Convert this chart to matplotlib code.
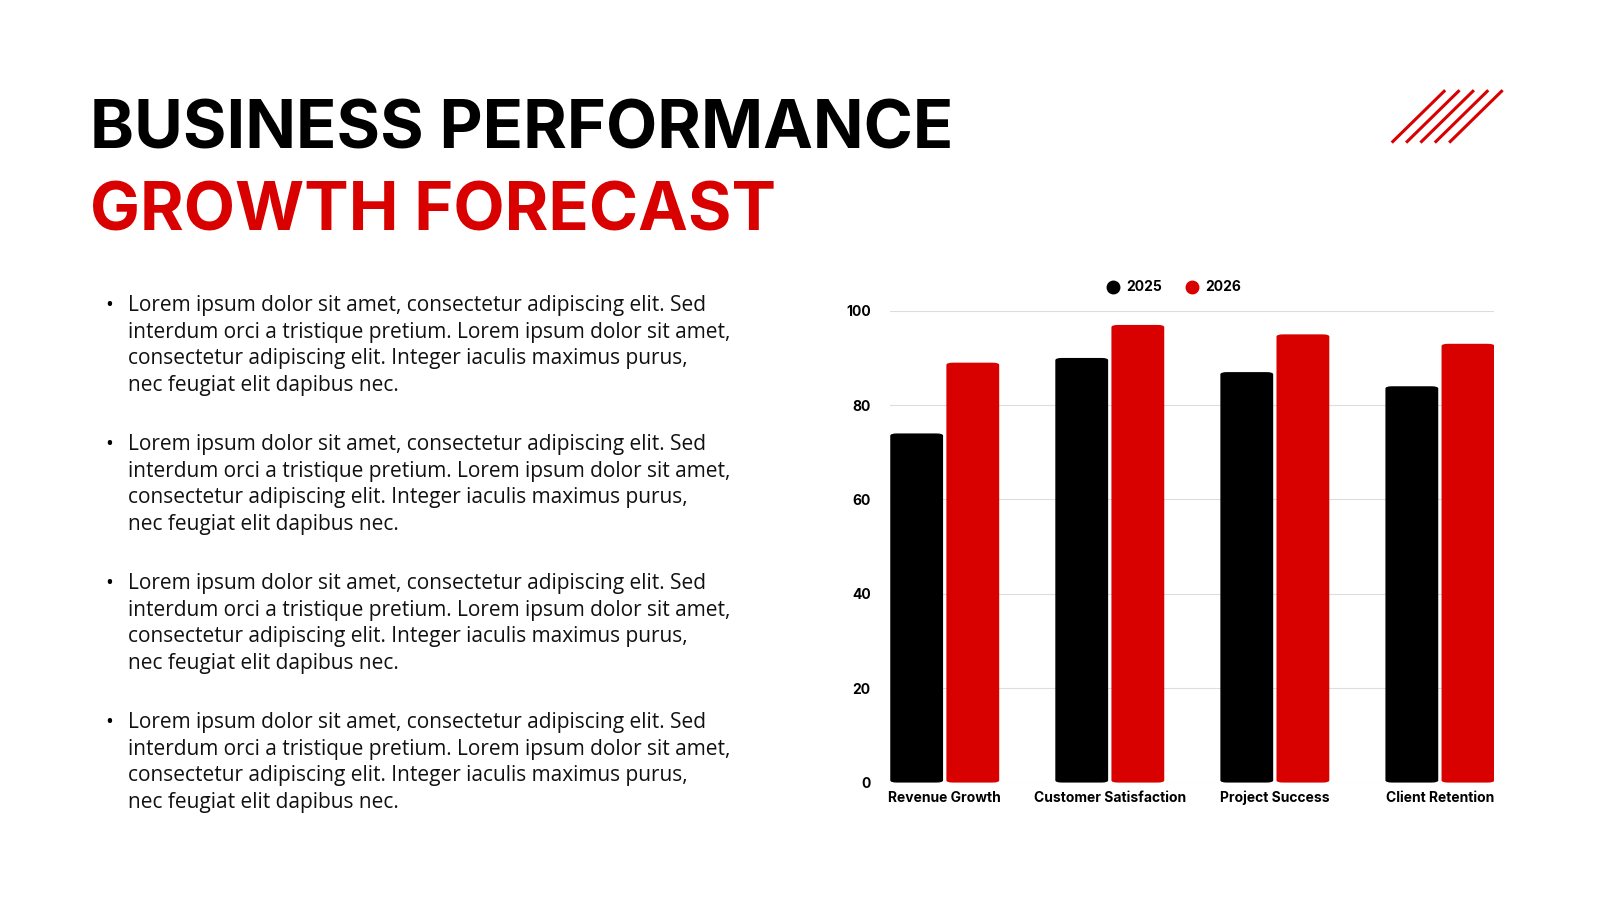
import numpy as np
import matplotlib.pyplot as plt
from matplotlib.patches import FancyBboxPatch
from matplotlib.lines import Line2D

categories = ["Revenue Growth", "Customer Satisfaction", "Project Success", "Client Retention"]
values_2025 = [74, 90, 87, 84]
values_2026 = [89, 97, 95, 93]
series_names = ["2025", "2026"]

RED = "#d90000"
W, H = 1560, 877.5

fig = plt.figure(figsize=(16, 9), dpi=100)
fig.patch.set_facecolor("white")

def fx(x):
    return x / W

def fy(y):
    return 1 - y / H

# titles
fig.text(fx(88), fy(128), "BUSINESS PERFORMANCE", fontsize=48, fontweight="bold",
         color="black", va="center", family="Inter")
fig.text(fx(88), fy(208), "GROWTH FORECAST", fontsize=48, fontweight="bold",
         color=RED, va="center", family="Inter")

# decorative stripes
for i in range(5):
    off = i * 14
    fig.add_artist(Line2D([fx(1358 + off), fx(1408 + off)], [fy(138), fy(89)],
                          color=RED, lw=2.2, transform=fig.transFigure))

# bullet text
para = ["Lorem ipsum dolor sit amet, consectetur adipiscing elit. Sed",
        "interdum orci a tristique pretium. Lorem ipsum dolor sit amet,",
        "consectetur adipiscing elit. Integer iaculis maximus purus,",
        "nec feugiat elit dapibus nec."]
for b in range(4):
    y0 = 298 + b * 135.5
    fig.text(fx(103), fy(y0), "•", fontsize=15, va="center", family="Open Sans")
    for j, line in enumerate(para):
        fig.text(fx(125), fy(y0 + j * 26), line, fontsize=15, va="center",
                 family="Open Sans", color="#111111")

# chart
ax = fig.add_axes([fx(868), fy(763), fx(1457 - 868), (763 - 303) / H])
x = np.arange(len(categories))
bw = 0.32
for vals, col, sh in [(values_2025, "black", -0.5), (values_2026, RED, 0.5)]:
    for xi, v in zip(x, vals):
        left = xi + sh * (bw + 0.02) - bw / 2
        ax.add_patch(FancyBboxPatch((left, 0), bw, v,
                                    boxstyle="round,pad=0,rounding_size=0.04",
                                    mutation_aspect=12, fc=col, ec="none"))
ax.set_xlim(-0.33, 3.33)
ax.set_ylim(0, 100)
ax.set_yticks([0, 20, 40, 60, 80, 100])
ax.grid(axis="y", color="#dddddd", lw=0.8)
ax.set_axisbelow(True)
for s in ax.spines.values():
    s.set_visible(False)
ax.tick_params(length=0, labelsize=10)
ax.set_xticks(x)
ax.set_xticklabels(categories, fontweight="bold", family="Inter")
for lab in ax.get_yticklabels():
    lab.set_fontweight("bold")
    lab.set_family("Inter")
ax.tick_params(axis="y", pad=14)
ax.tick_params(axis="x", pad=6)

# legend
for name, col, px in [(series_names[0], "black", 1085), (series_names[1], RED, 1162)]:
    fig.add_artist(Line2D([fx(px)], [fy(280)], marker="o", ms=9, color=col,
                          transform=fig.transFigure))
    fig.text(fx(px + 13), fy(280), name, fontsize=10, fontweight="bold",
             va="center", family="Inter")

fig.savefig("out.png", dpi=100, facecolor="white")
